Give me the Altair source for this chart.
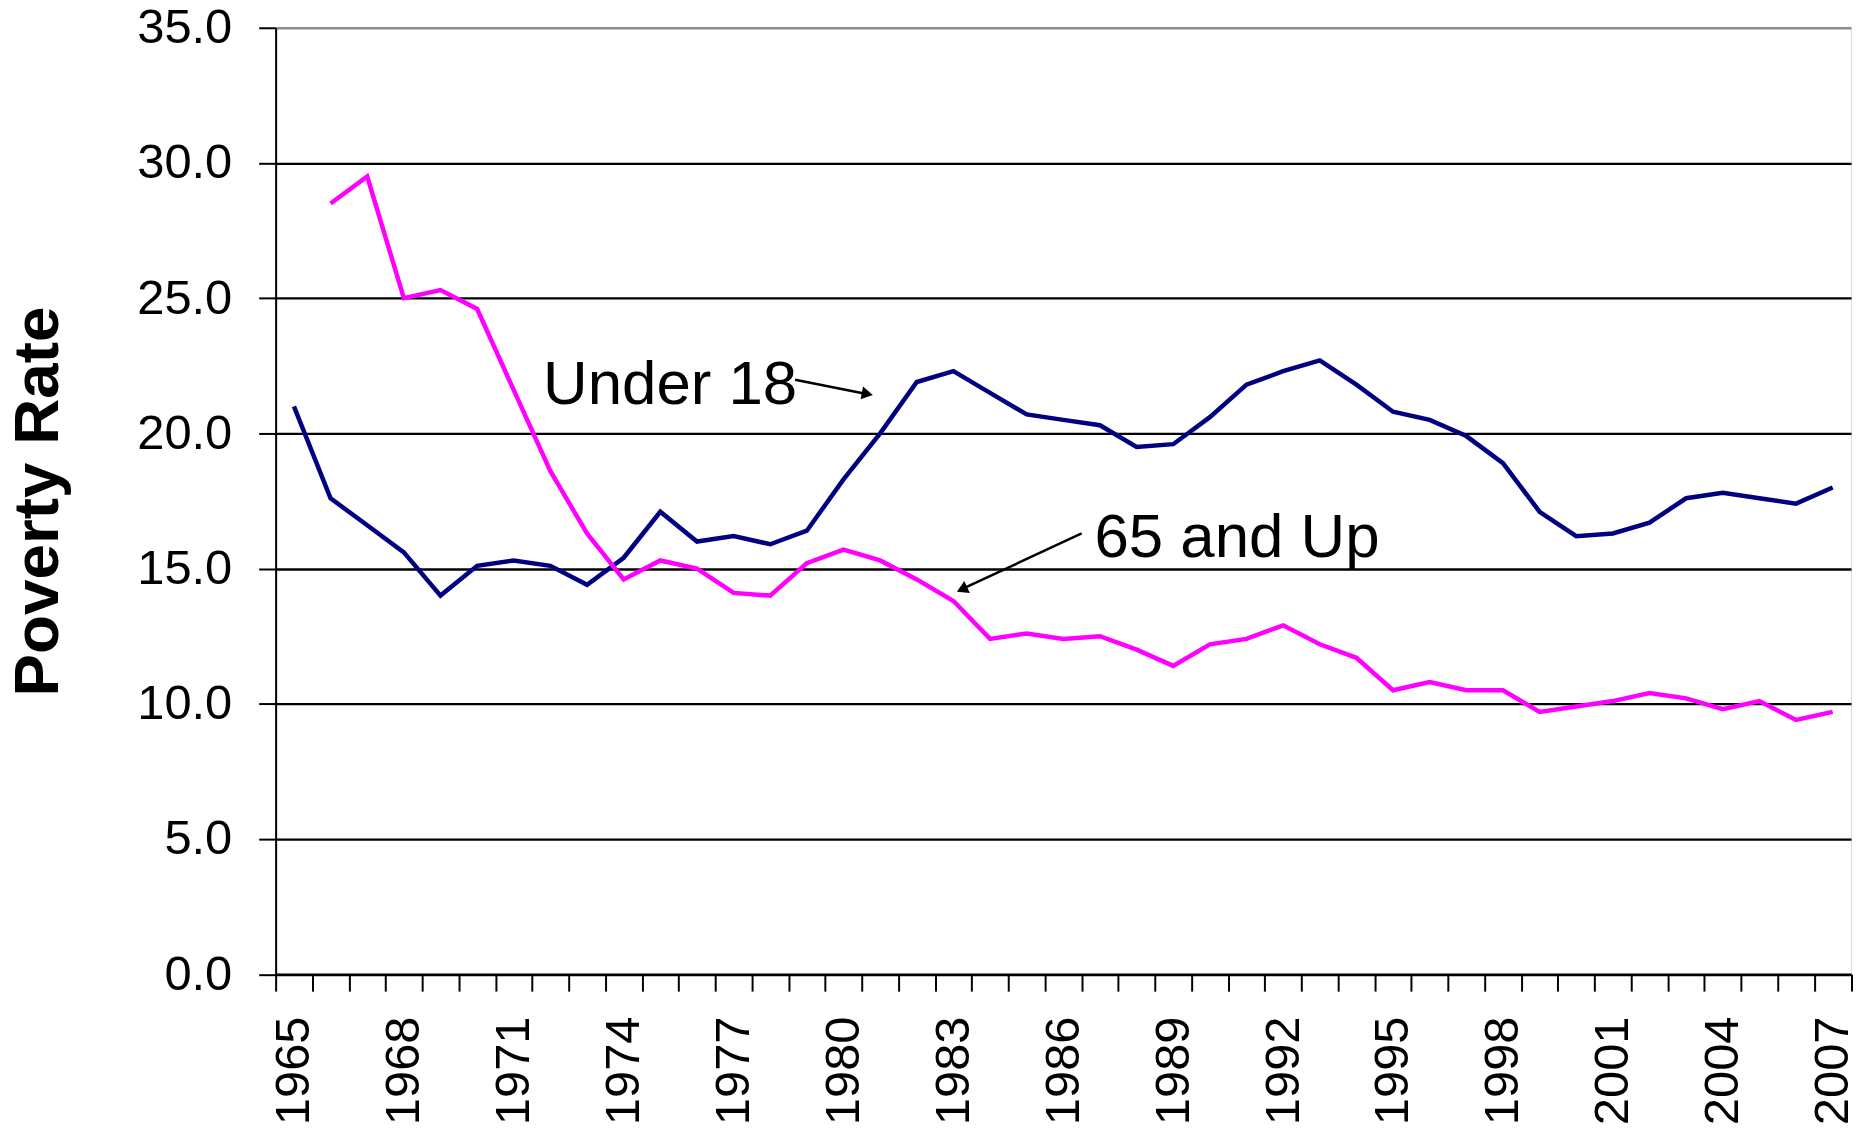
import altair as alt
import pandas as pd

# ---- data ----
years_u18 = list(range(1965, 2008))
under18 = [21.0, 17.6, 16.6, 15.6, 14.0, 15.1, 15.3, 15.1, 14.4, 15.4,
           17.1, 16.0, 16.2, 15.9, 16.4, 18.3, 20.0, 21.9, 22.3, 21.5,
           20.7, 20.5, 20.3, 19.5, 19.6, 20.6, 21.8, 22.3, 22.7, 21.8,
           20.8, 20.5, 19.9, 18.9, 17.1, 16.2, 16.3, 16.7, 17.6, 17.8,
           17.6, 17.4, 18.0]
years_65 = list(range(1966, 2008))
age65up = [28.5, 29.5, 25.0, 25.3, 24.6, 21.6, 18.6, 16.3, 14.6, 15.3,
           15.0, 14.1, 14.0, 15.2, 15.7, 15.3, 14.6, 13.8, 12.4, 12.6,
           12.4, 12.5, 12.0, 11.4, 12.2, 12.4, 12.9, 12.2, 11.7, 10.5,
           10.8, 10.5, 10.5, 9.7, 9.9, 10.1, 10.4, 10.2, 9.8, 10.1,
           9.4, 9.7]
series_names = ["Under 18", "65 and Up"]
series_colors = ["#000080", "#FF00FF"]

y_ticks = [0, 5, 10, 15, 20, 25, 30, 35]
x_label_years = list(range(1965, 2008, 3))
x_tick_bounds = [1964.5 + i for i in range(44)]

# annotations (data coordinates)
ann_text = ["Under 18", "65 and Up"]
ann_x = [1971.8, 1986.85]
ann_y = [21.07, 15.44]
arrow_x1 = [1978.68, 1986.5]
arrow_y1 = [21.98, 16.30]
arrow_x2 = [1980.7, 1983.2]
arrow_y2 = [21.44, 14.22]
head_x = [1980.6, 1983.28]
head_y = [21.47, 14.26]
head_angle = [101, 245]

df = pd.concat([
    pd.DataFrame({"year": years_u18, "rate": under18, "series": series_names[0]}),
    pd.DataFrame({"year": years_65, "rate": age65up, "series": series_names[1]}),
])
ann = pd.DataFrame({"text": ann_text, "x": ann_x, "y": ann_y})
arrows = pd.DataFrame({"x": arrow_x1, "y": arrow_y1, "x2": arrow_x2, "y2": arrow_y2})
heads = pd.DataFrame({"x": head_x, "y": head_y, "angle": head_angle})

FONT = "Liberation Sans"
xscale = alt.Scale(domain=[1964.5, 2007.5], nice=False, zero=False)
yscale = alt.Scale(domain=[0, 35], nice=False)

yaxis = alt.Axis(
    values=y_ticks, format=".1f", labelFont=FONT, labelFontSize=49,
    labelColor="black", labelPadding=27, tickSize=17, tickWidth=2,
    tickColor="black", domainColor="black", domainWidth=2,
    grid=True, gridWidth=2.3,
    gridColor={"condition": {"test": "datum.value == 35", "value": "#8c8c8c"}, "value": "black"},
    title="Poverty Rate", titleFont=FONT, titleFontSize=64, titleFontWeight="bold",
    titleColor="black", titleAngle=270, titleX=-219, titleY=474.75,
    titleAlign="center", titleBaseline="alphabetic",
)

tick_axis = alt.Axis(
    values=x_tick_bounds, labels=False, tickSize=17, tickWidth=2,
    tickColor="black", domainColor="black", domainWidth=2.3, grid=False,
    title=None, orient="bottom",
)
label_axis = alt.Axis(
    values=x_label_years, format="d", ticks=False, tickSize=0, domain=False,
    grid=False, labelAngle=270, labelFont=FONT, labelFontSize=49,
    labelColor="black", labelPadding=42, labelFlush=False, labelOverlap=False,
    title=None, orient="bottom",
)

lines = alt.Chart(df).mark_line(strokeWidth=4.5).encode(
    x=alt.X("year:Q", scale=xscale, axis=tick_axis),
    y=alt.Y("rate:Q", scale=yscale, axis=yaxis),
    color=alt.Color("series:N", scale=alt.Scale(domain=series_names, range=series_colors), legend=None),
    detail="series:N",
)

texts = alt.Chart(ann).mark_text(
    align="left", baseline="alphabetic", font=FONT, fontSize=62, color="black"
).encode(
    x=alt.X("x:Q", scale=xscale, axis=label_axis),
    y=alt.Y("y:Q", scale=yscale, axis=yaxis),
    text="text:N",
)

arrow_lines = alt.Chart(arrows).mark_rule(strokeWidth=2.5, color="black").encode(
    x=alt.X("x:Q", scale=xscale, axis=None),
    y=alt.Y("y:Q", scale=yscale, axis=yaxis),
    x2="x2:Q", y2="y2:Q",
)

arrow_heads = alt.Chart(heads).mark_point(
    shape="triangle", filled=True, color="black", size=170, opacity=1
).encode(
    x=alt.X("x:Q", scale=xscale, axis=None),
    y=alt.Y("y:Q", scale=yscale, axis=yaxis),
    angle=alt.Angle("angle:Q", scale=None),
)

chart = alt.layer(lines, texts, arrow_lines, arrow_heads).resolve_axis(
    x="independent"
).properties(
    width=1580.5, height=949.5,
    autosize=alt.AutoSizeParams(type="none"),
    padding={"left": 268.5, "top": 18, "right": 2, "bottom": 153},
).configure_view(
    stroke="#8c8c8c", strokeWidth=2
).configure(background="white")

chart.save("out.html", embed_options={"renderer": "svg", "actions": False})
